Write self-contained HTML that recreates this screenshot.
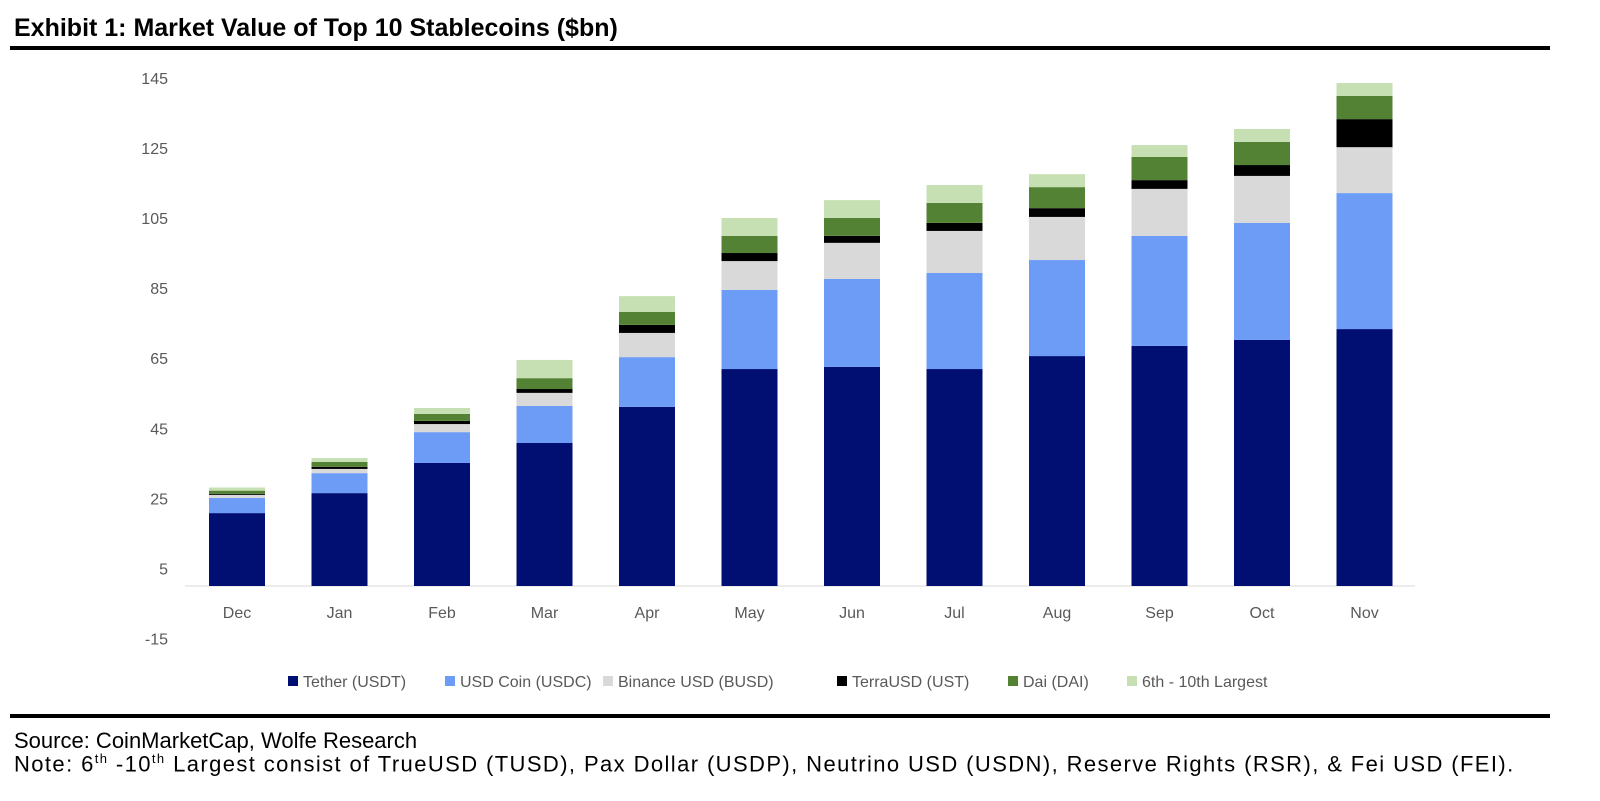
<!DOCTYPE html>
<html><head><meta charset="utf-8"><style>
body{margin:0;background:#fff;width:1600px;height:801px;overflow:hidden;font-family:"Liberation Sans",sans-serif;position:relative}
.t{position:absolute;white-space:nowrap}
</style></head><body>
<div class="t" style="left:14px;top:14px;font-size:25px;font-weight:bold;color:#000">Exhibit 1: Market Value of Top 10 Stablecoins ($bn)</div>
<div class="t" style="left:10px;top:46px;width:1540px;height:4px;background:#000"></div>
<div class="t" style="left:10px;top:714px;width:1540px;height:4px;background:#000"></div>
<div class="t" style="left:14px;top:728px;font-size:22px;color:#000">Source: CoinMarketCap, Wolfe Research</div>
<div class="t" style="left:14px;top:751px;font-size:22px;letter-spacing:1.4px;color:#000">Note: 6<sup style="font-size:13px">th</sup> -10<sup style="font-size:13px">th</sup> Largest consist of TrueUSD (TUSD), Pax Dollar (USDP), Neutrino USD (USDN), Reserve Rights (RSR), &amp; Fei USD (FEI).</div>
<svg id="chart" width="1600" height="801" style="position:absolute;left:0;top:0" font-family="Liberation Sans, sans-serif"></svg>
<script>
const categories=["Dec","Jan","Feb","Mar","Apr","May","Jun","Jul","Aug","Sep","Oct","Nov"];
const seriesNames=["Tether (USDT)","USD Coin (USDC)","Binance USD (BUSD)","TerraUSD (UST)","Dai (DAI)","6th - 10th Largest"];
const tether=[20.8,26.5,35.1,40.8,51.1,61.9,62.5,61.9,65.6,68.5,70.2,73.3];
const usdc=[4.3,5.7,8.8,10.6,14.2,22.6,25.1,27.4,27.4,31.4,33.4,38.8];
const busd=[0.9,1.2,2.3,3.7,6.9,8.2,10.3,12.0,12.3,13.4,13.4,13.1];
const ust=[0.3,0.6,0.9,1.1,2.3,2.3,2.0,2.3,2.5,2.5,3.1,8.0];
const dai=[0.9,1.4,2.0,3.1,3.7,4.9,5.1,5.7,6.0,6.6,6.6,6.6];
const others=[0.9,1.1,1.7,5.2,4.5,5.1,5.1,5.1,3.7,3.4,3.7,3.7];
const yTicks=[-15,5,25,45,65,85,105,125,145];
const colors=["#020f72","#6d9cf6","#d9d9d9","#000000","#548235","#c6e0b4"];
const series=[tether,usdc,busd,ust,dai,others];
const svg=document.getElementById('chart');
const NS="http://www.w3.org/2000/svg";
const y0=586,ppu=3.505;
const yS=v=>y0-v*ppu;
const xS=i=>237+i*102.5;
function mk(tag,attrs){const e=document.createElementNS(NS,tag);for(const k in attrs)e.setAttribute(k,attrs[k]);svg.appendChild(e);return e;}
yTicks.forEach(v=>{const t=mk('text',{x:168,y:yS(v)+6,'text-anchor':'end','font-size':16,fill:'#595959'});t.textContent=v;

});
const ax=mk('line',{x1:185,x2:1415,y1:yS(0),y2:yS(0),stroke:'#d9d9d9','stroke-width':1});


categories.forEach((c,i)=>{let acc=0;
series.forEach((s,k)=>{const v=s[i];const r=mk('rect',{x:xS(i)-28,width:56,y:yS(acc+v),height:v*ppu,fill:colors[k]});

acc+=v;});
const t=mk('text',{x:xS(i),y:618,'text-anchor':'middle','font-size':16,fill:'#595959'});t.textContent=c;

});
const lx=[288,445,603,837,1008,1127];
seriesNames.forEach((n,k)=>{const r=mk('rect',{x:lx[k],y:676,width:10,height:10,fill:colors[k]});


const t=mk('text',{x:lx[k]+15,y:687,'font-size':16,fill:'#595959'});t.textContent=n;

});
</script>
</body></html>
